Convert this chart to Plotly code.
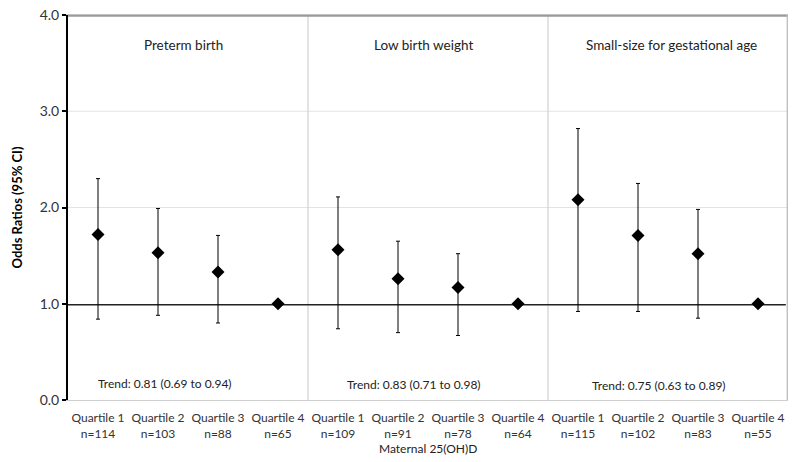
import plotly.graph_objects as go

categories = ["Quartile 1<br>n=114", "Quartile 2<br>n=103", "Quartile 3<br>n=88", "Quartile 4<br>n=65",
              "Quartile 1<br>n=109", "Quartile 2<br>n=91", "Quartile 3<br>n=78", "Quartile 4<br>n=64",
              "Quartile 1<br>n=115", "Quartile 2<br>n=102", "Quartile 3<br>n=83", "Quartile 4<br>n=55"]
odds_ratio = [1.72, 1.53, 1.33, 1.00,
              1.56, 1.26, 1.17, 1.00,
              2.08, 1.71, 1.52, 1.00]
ci_upper = [2.30, 1.99, 1.71, 1.00,
            2.11, 1.65, 1.52, 1.00,
            2.82, 2.25, 1.98, 1.00]
ci_lower = [0.84, 0.88, 0.80, 1.00,
            0.74, 0.70, 0.67, 1.00,
            0.92, 0.92, 0.85, 1.00]
panel_titles = ["Preterm birth", "Low birth weight", "Small-size for gestational age"]
trend_texts = ["Trend: 0.81 (0.69 to 0.94)", "Trend: 0.83 (0.71 to 0.98)", "Trend: 0.75 (0.63 to 0.89)"]
y_ticks = [0, 1, 2, 3, 4]

FONT = "Lato, 'Open Sans', sans-serif"
xs = list(range(len(categories)))

fig = go.Figure()
fig.add_trace(go.Scatter(
    x=xs, y=odds_ratio, mode="markers",
    marker=dict(symbol="diamond", size=10, color="black"),
    error_y=dict(type="data", symmetric=False,
                 array=[u - v for u, v in zip(ci_upper, odds_ratio)],
                 arrayminus=[v - l for v, l in zip(odds_ratio, ci_lower)],
                 color="black", thickness=1, width=2),
    showlegend=False, cliponaxis=False,
))

shapes = []
for v in [2, 3]:
    shapes.append(dict(type="line", xref="paper", yref="y", x0=0, x1=1, y0=v, y1=v,
                       line=dict(color="#e3e3e3", width=1), layer="below"))
for sx in [3.5, 7.5]:
    shapes.append(dict(type="line", xref="x", yref="paper", x0=sx, x1=sx, y0=0, y1=1,
                       line=dict(color="#d0d0d0", width=1.2), layer="below"))
shapes.append(dict(type="line", xref="paper", yref="y", x0=0, x1=0.997, y0=0.99, y1=0.99,
                   line=dict(color="#222222", width=1.6), layer="below"))
# plot-area borders (top darker, right lighter)
shapes.append(dict(type="line", xref="paper", yref="paper", x0=0, x1=1, y0=0.998, y1=0.998,
                   line=dict(color="#9a9a9a", width=2), layer="above"))
shapes.append(dict(type="line", xref="paper", yref="paper", x0=0.999, x1=0.999, y0=0, y1=1,
                   line=dict(color="#bdbdbd", width=1.3), layer="above"))

# page body has an 8px default margin; figure sized so it fits the 800x462 window,
# plot area lands at x 68-788, y 15-400
fig.update_layout(
    width=792, height=454,
    margin=dict(l=60, r=12, t=7, b=62, autoexpand=False),
    paper_bgcolor="white", plot_bgcolor="white",
    shapes=shapes,
    xaxis=dict(range=[-0.5, 11.5], tickvals=xs, ticktext=categories, showgrid=False,
               zeroline=False, showline=True, mirror=True, linecolor="#cfcfcf", linewidth=1,
               ticks="", automargin=False, ticklabelstandoff=7,
               tickfont=dict(family=FONT, size=12, color="#333333")),
    yaxis=dict(range=[0, 4], tickvals=y_ticks, ticktext=[f"{v:.1f}" for v in y_ticks],
               showgrid=False, zeroline=False, showline=True, linecolor="black", linewidth=2,
               ticks="outside", ticklen=4, tickcolor="black", tickwidth=1.5, automargin=False,
               ticklabeloverflow="allow",
               tickfont=dict(family=FONT, size=14, color="#333333"),
               title=dict(text="<b>Odds Ratios (95% CI)</b>", standoff=14,
                          font=dict(family=FONT, size=13, color="black"))),
    font=dict(family=FONT),
)

title_x = [1.42, 5.43, 9.55]
for i, t in enumerate(panel_titles):
    fig.add_annotation(x=title_x[i], y=3.69, xref="x", yref="y", text=t, showarrow=False,
                       font=dict(family=FONT, size=13.5, color="#222222"))
trend_x = [1.12, 5.26, 9.35]
for i, t in enumerate(trend_texts):
    fig.add_annotation(x=trend_x[i], y=0.17 - 0.01 * i, xref="x", yref="y", text=t, showarrow=False,
                       font=dict(family=FONT, size=12, color="#222222"))
fig.add_annotation(x=0.5, y=-0.126, xref="paper", yref="paper", yanchor="middle",
                   text="Maternal 25(OH)D", showarrow=False,
                   font=dict(family=FONT, size=12, color="#222222"))

fig.write_html("out.html")
